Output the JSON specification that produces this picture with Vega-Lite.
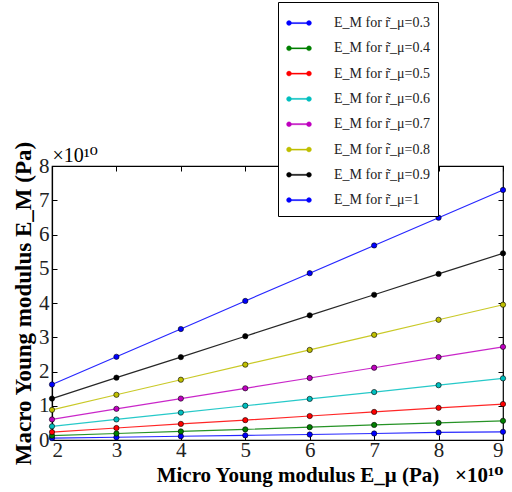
{
  "$schema": "https://vega.github.io/schema/vega-lite/v6.json",
  "width": 451,
  "height": 274,
  "autosize": {"type": "none"},
  "padding": {"left": 52, "top": 166, "right": 9, "bottom": 52},
  "background": "white",
  "config": {
    "view": {"stroke": "black", "strokeWidth": 1.2},
    "font": "Liberation Serif",
    "legend": {"labelFont": "Liberation Serif", "labelFontSize": 14},
    "axis": {
      "grid": false,
      "domainColor": "black",
      "domainWidth": 1.2,
      "tickColor": "black",
      "tickSize": -5,
      "tickWidth": 1,
      "labelFont": "Liberation Serif",
      "labelFontSize": 21,
      "labelColor": "#222",
      "titleFont": "Liberation Serif, DejaVu Serif",
      "titleColor": "black",
      "titleFontWeight": "bold"
    }
  },
  "data": {
    "values": [
      {"x": 2, "r": "0.3", "E": 0.054}, {"x": 3, "r": "0.3", "E": 0.08}, {"x": 4, "r": "0.3", "E": 0.11}, {"x": 5, "r": "0.3", "E": 0.135}, {"x": 6, "r": "0.3", "E": 0.16}, {"x": 7, "r": "0.3", "E": 0.19}, {"x": 8, "r": "0.3", "E": 0.22}, {"x": 9, "r": "0.3", "E": 0.24},
      {"x": 2, "r": "0.4", "E": 0.125}, {"x": 3, "r": "0.4", "E": 0.19}, {"x": 4, "r": "0.4", "E": 0.25}, {"x": 5, "r": "0.4", "E": 0.31}, {"x": 6, "r": "0.4", "E": 0.375}, {"x": 7, "r": "0.4", "E": 0.44}, {"x": 8, "r": "0.4", "E": 0.5}, {"x": 9, "r": "0.4", "E": 0.56},
      {"x": 2, "r": "0.5", "E": 0.23}, {"x": 3, "r": "0.5", "E": 0.35}, {"x": 4, "r": "0.5", "E": 0.47}, {"x": 5, "r": "0.5", "E": 0.58}, {"x": 6, "r": "0.5", "E": 0.7}, {"x": 7, "r": "0.5", "E": 0.82}, {"x": 8, "r": "0.5", "E": 0.94}, {"x": 9, "r": "0.5", "E": 1.05},
      {"x": 2, "r": "0.6", "E": 0.4}, {"x": 3, "r": "0.6", "E": 0.6}, {"x": 4, "r": "0.6", "E": 0.8}, {"x": 5, "r": "0.6", "E": 1.0}, {"x": 6, "r": "0.6", "E": 1.2}, {"x": 7, "r": "0.6", "E": 1.4}, {"x": 8, "r": "0.6", "E": 1.6}, {"x": 9, "r": "0.6", "E": 1.8},
      {"x": 2, "r": "0.7", "E": 0.6}, {"x": 3, "r": "0.7", "E": 0.91}, {"x": 4, "r": "0.7", "E": 1.21}, {"x": 5, "r": "0.7", "E": 1.51}, {"x": 6, "r": "0.7", "E": 1.81}, {"x": 7, "r": "0.7", "E": 2.11}, {"x": 8, "r": "0.7", "E": 2.42}, {"x": 9, "r": "0.7", "E": 2.72},
      {"x": 2, "r": "0.8", "E": 0.88}, {"x": 3, "r": "0.8", "E": 1.32}, {"x": 4, "r": "0.8", "E": 1.76}, {"x": 5, "r": "0.8", "E": 2.2}, {"x": 6, "r": "0.8", "E": 2.63}, {"x": 7, "r": "0.8", "E": 3.07}, {"x": 8, "r": "0.8", "E": 3.51}, {"x": 9, "r": "0.8", "E": 3.95},
      {"x": 2, "r": "0.9", "E": 1.21}, {"x": 3, "r": "0.9", "E": 1.82}, {"x": 4, "r": "0.9", "E": 2.42}, {"x": 5, "r": "0.9", "E": 3.03}, {"x": 6, "r": "0.9", "E": 3.64}, {"x": 7, "r": "0.9", "E": 4.24}, {"x": 8, "r": "0.9", "E": 4.85}, {"x": 9, "r": "0.9", "E": 5.45},
      {"x": 2, "r": "1", "E": 1.62}, {"x": 3, "r": "1", "E": 2.43}, {"x": 4, "r": "1", "E": 3.24}, {"x": 5, "r": "1", "E": 4.06}, {"x": 6, "r": "1", "E": 4.87}, {"x": 7, "r": "1", "E": 5.68}, {"x": 8, "r": "1", "E": 6.49}, {"x": 9, "r": "1", "E": 7.3}
    ]
  },
  "layer": [
    {
      "mark": {"type": "line", "strokeWidth": 1.2, "opacity": 0.85},
      "encoding": {
        "x": {
          "field": "x", "type": "quantitative",
          "scale": {"domain": [2, 9], "nice": false, "zero": false},
          "axis": {"values": [2, 3, 4, 5, 6, 7, 8, 9], "orient": "bottom", "labelPadding": 4,
                   "title": "Micro Young modulus E_μ (Pa)\u00a0\u00a0\u00a0×10¹⁰", "titleFontSize": 21, "titleAnchor": "end", "titlePadding": 4}
        },
        "y": {
          "field": "E", "type": "quantitative",
          "scale": {"domain": [0, 8], "nice": false},
          "axis": {"values": [0, 1, 2, 3, 4, 5, 6, 7, 8], "orient": "left", "labelPadding": 8,
                   "title": "Macro Young modulus E_M (Pa)", "titleFontSize": 23, "titlePadding": 3}
        },
        "color": {
          "field": "r", "type": "nominal",
          "scale": {"domain": ["0.3", "0.4", "0.5", "0.6", "0.7", "0.8", "0.9", "1"],
                    "range": ["#0000ff", "#008000", "#ff0000", "#00bfbf", "#bf00bf", "#bfbf00", "#000000", "#0000ff"]},
          "legend": {
            "orient": "none", "legendX": 226, "legendY": -164,
            "title": null,
            "fillColor": "white", "strokeColor": "black", "padding": 8, "cornerRadius": 0,
            "symbolType": "M-0.8,-0.05 L0.8,-0.05 L0.8,0.05 L-0.8,0.05 Z M-0.6,0 A0.2,0.2 0 1,1 -1.0,0 A0.2,0.2 0 1,1 -0.6,0 Z M1.0,0 A0.2,0.2 0 1,1 0.6,0 A0.2,0.2 0 1,1 1.0,0 Z",
            "symbolSize": 625, "symbolStrokeWidth": 0.3, "symbolStrokeColor": "black", "symbolOpacity": 1,
            "labelFont": "Liberation Serif", "labelFontSize": 14, "labelColor": "#222", "labelOffset": 22,
            "rowPadding": 5.3,
            "labelExpr": "'E_M for r̃_μ=' + datum.label",
            "encode": {
              "symbols": {"update": {"fill": {"scale": "color", "field": "value"}, "stroke": {"value": "black"}, "strokeWidth": {"value": 0.3}, "opacity": {"value": 1}}},
              "labels": {"update": {"font": {"value": "Liberation Serif"}, "fontSize": {"value": 14}}}
            }
          }
        }
      }
    },
    {
      "mark": {"type": "point", "filled": true, "size": 28, "stroke": "black", "strokeWidth": 0.6, "opacity": 1},
      "encoding": {
        "x": {
          "field": "x", "type": "quantitative",
          "axis": {"values": [2, 3, 4, 5, 6, 7, 8, 9], "orient": "top", "labels": false, "title": "×10¹⁰",
                   "titleFontWeight": "normal", "titleFontSize": 20, "titleAnchor": "start", "titleAlign": "left", "titlePadding": 0, "domain": false}
        },
        "y": {
          "field": "E", "type": "quantitative",
          "axis": {"values": [0, 1, 2, 3, 4, 5, 6, 7, 8], "orient": "right", "labels": false, "title": null, "domain": false}
        },
        "color": {"field": "r", "type": "nominal"}
      }
    }
  ],
  "resolve": {"axis": {"x": "independent", "y": "independent"}}
}
